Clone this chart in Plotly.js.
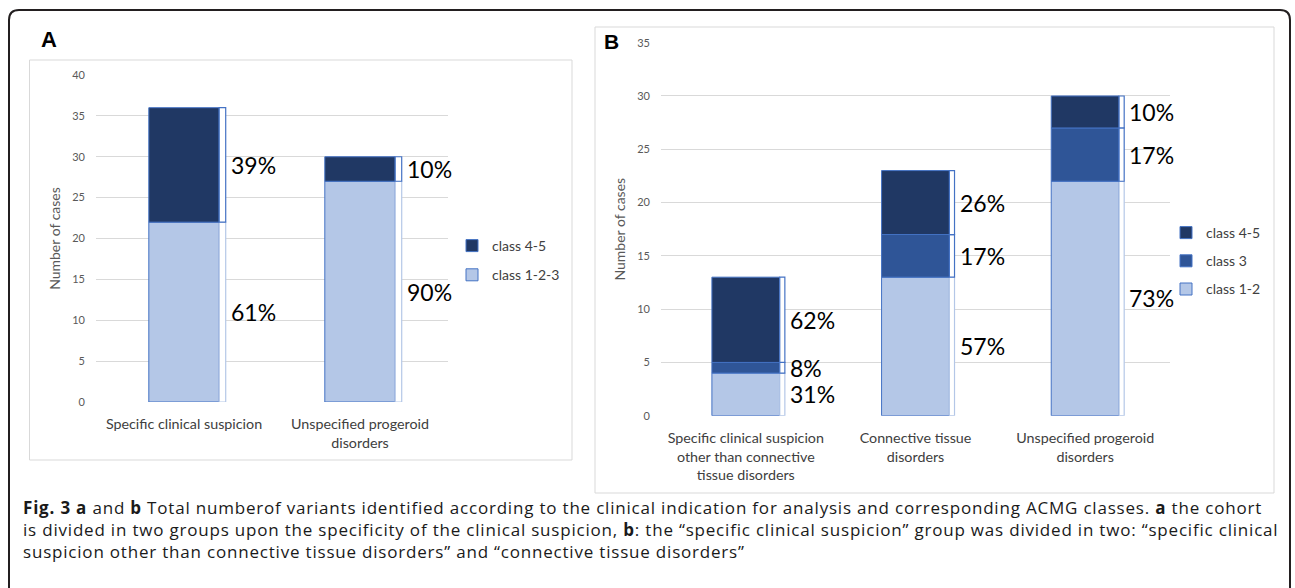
<!DOCTYPE html>
<html>
<head>
<meta charset="utf-8">
<script src="https://cdn.plot.ly/plotly-3.0.1.min.js"></script>
<style>
  html, body { margin: 0; padding: 0; background: #ffffff; }
  #chart { width: 1295px; height: 588px; }
</style>
</head>
<body>
<div id="chart"></div>
<script>
// ---------- data ----------
const catsA = ['Specific clinical suspicion', 'Unspecified progeroid<br>disorders'];
const aClass123 = [22, 27];
const aClass45 = [14, 3];
const aPct123 = ['61%', '90%'];
const aPct45 = ['39%', '10%'];

const catsB = ['Specific clinical suspicion<br>other than connective<br>tissue disorders',
               'Connective tissue<br>disorders',
               'Unspecified progeroid<br>disorders'];
const bClass12 = [4, 13, 22];
const bClass3 = [1, 4, 5];
const bClass45 = [8, 6, 3];
const bPct12 = ['31%', '57%', '73%'];
const bPct3 = ['8%', '17%', '17%'];
const bPct45 = ['62%', '26%', '10%'];

// ---------- styling ----------
const W = 1295, H = 588;
const px = x => x / W;
const py = y => 1 - y / H;
const FONT = 'Lato, "Open Sans", sans-serif';
const C_LIGHT = '#B4C7E7', C_MID = '#2F5597', C_DARK = '#203864', C_EDGE = '#4472C4';

const traces = [];
const annotations = [];

function addPanel(cats, series, xa, ya, legendId, bw, brw) {
  const base = cats.map(() => 0);
  const idx = cats.map((_, i) => i);
  series.forEach((s, k) => {
    const b = base.slice();
    traces.push({
      type: 'bar', x: cats, y: s.values, base: b, name: s.name,
      xaxis: xa, yaxis: ya, legend: legendId, legendgroup: legendId + s.name,
      legendrank: 100 - k,
      width: bw, offset: -bw / 2,
      marker: { color: s.color, line: { color: C_EDGE, width: 1 } },
      hoverinfo: 'skip'
    });
    traces.push({
      type: 'bar', x: cats, y: s.values, base: b, name: s.name + ' bracket',
      xaxis: xa, yaxis: ya, showlegend: false,
      width: brw, offset: bw / 2,
      marker: { color: '#ffffff', line: { color: s.bracket, width: 1.2 } },
      hoverinfo: 'skip'
    });
    idx.forEach(i => {
      annotations.push({
        xref: xa, yref: ya, x: i + bw / 2 + brw, y: b[i] + s.values[i] / 2,
        xanchor: 'left', yanchor: 'middle', xshift: 3, showarrow: false,
        text: s.pct[i], font: { family: FONT, size: 23, color: '#000000' }
      });
    });
    s.values.forEach((v, i) => { base[i] += v; });
  });
}

addPanel(catsA, [
  { name: 'class 1-2-3', values: aClass123, color: C_LIGHT, bracket: C_LIGHT, pct: aPct123 },
  { name: 'class 4-5', values: aClass45, color: C_DARK, bracket: C_EDGE, pct: aPct45 }
], 'x', 'y', 'legend', 0.4, 0.037);

addPanel(catsB, [
  { name: 'class 1-2', values: bClass12, color: C_LIGHT, bracket: C_LIGHT, pct: bPct12 },
  { name: 'class 3', values: bClass3, color: C_MID, bracket: C_EDGE, pct: bPct3 },
  { name: 'class 4-5', values: bClass45, color: C_DARK, bracket: C_EDGE, pct: bPct45 }
], 'x2', 'y2', 'legend2', 0.4, 0.03);

// panel letters
annotations.push({ xref: 'paper', yref: 'paper', x: px(39), y: py(40), xanchor: 'left', yanchor: 'middle',
  showarrow: false, text: '<b>A</b>', font: { family: 'Liberation Sans, Arial, sans-serif', size: 22, color: '#000' } });
annotations.push({ xref: 'paper', yref: 'paper', x: px(602), y: py(41), xanchor: 'left', yanchor: 'middle',
  showarrow: false, text: '<b>B</b>', font: { family: 'Liberation Sans, Arial, sans-serif', size: 21, color: '#000' } });

// caption
const captionLines = [
  '<b>Fig. 3 a</b> and <b>b</b> Total numberof variants identified according to the clinical indication for analysis and corresponding ACMG classes. <b>a</b> the cohort',
  'is divided in two groups upon the specificity of the clinical suspicion, <b>b</b>: the \u201cspecific clinical suspicion\u201d group was divided in two: \u201cspecific clinical',
  'suspicion other than connective tissue disorders\u201d and \u201cconnective tissue disorders\u201d'
];
const captionY = [507, 529, 551];
const captionStart = annotations.length;
captionLines.forEach((t, i) => {
  annotations.push({ xref: 'paper', yref: 'paper', x: px(21), y: py(captionY[i]), xanchor: 'left', yanchor: 'middle',
    showarrow: false, text: t, font: { family: '"Open Sans", "Noto Sans", sans-serif', size: 17, color: '#1A1A1A' } });
});

const frame = [
  'M', px(9), py(588), 'L', px(9), py(20), 'Q', px(9), py(10), px(19), py(10),
  'L', px(1280), py(10), 'Q', px(1290), py(10), px(1290), py(20), 'L', px(1290), py(588)
].join(' ');

const shapes = [
  { type: 'path', xref: 'paper', yref: 'paper', path: frame, line: { color: '#231F20', width: 2 } },
  { type: 'rect', xref: 'paper', yref: 'paper', x0: px(29.5), x1: px(572), y0: py(460), y1: py(60),
    line: { color: '#D9D9D9', width: 1 } },
  { type: 'rect', xref: 'paper', yref: 'paper', x0: px(595), x1: px(1274), y0: py(493), y1: py(27),
    line: { color: '#D9D9D9', width: 1 } }
];

const yCommon = {
  dtick: 5, tick0: 0, showgrid: true, gridcolor: '#D9D9D9', gridwidth: 1, zeroline: false,
  showline: false, ticks: '', ticklabelstandoff: 10,
  tickfont: { family: FONT, size: 11, color: '#595959' }
};
const xCommon = {
  type: 'category', showgrid: false, zeroline: false, showline: false, ticks: '',
  ticklabelstandoff: 12,
  tickfont: { family: FONT, size: 14.3, color: '#404040' }, fixedrange: true
};

const layout = {
  width: W, height: H, autosize: false,
  margin: { l: 0, r: 0, t: 0, b: 0, pad: 0 },
  paper_bgcolor: '#ffffff', plot_bgcolor: 'rgba(0,0,0,0)',
  barmode: 'overlay',
  showlegend: true,
  xaxis: Object.assign({}, xCommon, { domain: [px(96), px(448)], anchor: 'y', range: [-0.5, 1.5] }),
  yaxis: Object.assign({}, yCommon, { domain: [py(402), py(75)], anchor: 'x', range: [0, 40],
    title: { text: 'Number of cases', standoff: 8, font: { family: FONT, size: 14, color: '#595959' } } }),
  xaxis2: Object.assign({}, xCommon, { domain: [px(661), px(1170)], anchor: 'y2', range: [-0.5, 2.5] }),
  yaxis2: Object.assign({}, yCommon, { domain: [py(415.7), py(42.7)], anchor: 'x2', range: [0, 35],
    title: { text: 'Number of cases', standoff: 8, font: { family: FONT, size: 14, color: '#595959' } } }),
  legend: {
    x: px(452), y: py(230), xanchor: 'left', yanchor: 'top', traceorder: 'grouped',
    tracegroupgap: 8, bgcolor: 'rgba(0,0,0,0)', font: { family: FONT, size: 14, color: '#404040' }
  },
  legend2: {
    x: px(1166), y: py(217), xanchor: 'left', yanchor: 'top', traceorder: 'grouped',
    tracegroupgap: 7, bgcolor: 'rgba(0,0,0,0)', font: { family: FONT, size: 14, color: '#404040' }
  },
  shapes: shapes,
  annotations: annotations
};

Plotly.newPlot('chart', traces, layout, { displayModeBar: false, staticPlot: true }).then(gd => {
  // widen caption tracking to match the original typesetting, keeping the left edge fixed
  const nodes = gd.querySelectorAll('.annotation');
  nodes.forEach(n => {
    const i = +n.getAttribute('data-index');
    if (i >= captionStart && i < captionStart + captionLines.length) {
      const t = n.querySelector('text');
      if (t) {
        const left = t.getBBox().x;
        t.setAttribute('text-anchor', 'start');
        t.setAttribute('x', left);
        t.style.letterSpacing = '0.8px';
      }
    }
  });
});
</script>
</body>
</html>
